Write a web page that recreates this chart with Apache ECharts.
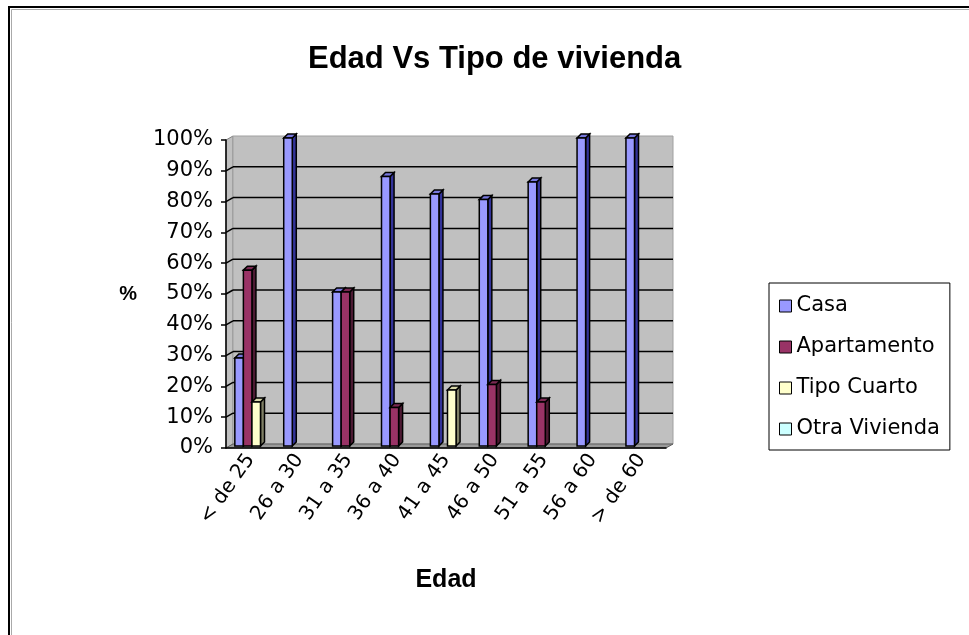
<!DOCTYPE html>
<html>
<head>
<meta charset="utf-8">
<title>Edad Vs Tipo de vivienda</title>
<script src="https://cdn.jsdelivr.net/npm/echarts@6/dist/echarts.min.js"></script>
<style>
  html, body { margin: 0; padding: 0; background: #fff; }
  #chart { width: 969px; height: 635px; }
</style>
</head>
<body>
<div id="chart"></div>
<script>
// categorias de edad
const categories = ['< de 25', '26 a 30', '31 a 35', '36 a 40', '41 a 45', '46 a 50', '51 a 55', '56 a 60', '> de 60'];

// porcentaje por tipo de vivienda
const casa = [28.6, 100, 50, 87.5, 81.8, 80, 85.7, 100, 100];
const apartamento = [57.1, 0, 50, 12.5, 0, 20, 14.3, 0, 0];
const tipoCuarto = [14.3, 0, 0, 0, 18.2, 0, 0, 0, 0];
const otraVivienda = [0, 0, 0, 0, 0, 0, 0, 0, 0];

const seriesNames = ['Casa', 'Apartamento', 'Tipo Cuarto', 'Otra Vivienda'];
const yTicks = [10, 20, 30, 40, 50, 60, 70, 80, 90];

// colores: frente, arriba, lado
const palette = [
  ['#9999ff', '#7777dd', '#333399'],
  ['#993366', '#7a2952', '#4d1a33'],
  ['#ffffcc', '#d6d6a8', '#808066'],
  ['#ccffff', '#a8d6d6', '#668080']
];

// efecto 3D
const WALL_DX = 7, WALL_DY = -4;
const BAR_DX = 3.5, BAR_DY = -2, BAR_DEPTH = 4;

const chart = echarts.init(document.getElementById('chart'));

const renderWalls = (params, api) => {
  const cs = params.coordSys;
  const l = cs.x, t = cs.y, r = cs.x + cs.width, b = cs.y + cs.height;
  const children = [
    { type: 'polygon', shape: { points: [[l, t], [l + WALL_DX, t + WALL_DY], [l + WALL_DX, b + WALL_DY], [l, b]] },
      style: { fill: '#c0c0c0', stroke: '#808080', lineWidth: 1 } },
    { type: 'rect', shape: { x: l + WALL_DX, y: t + WALL_DY, width: cs.width, height: cs.height },
      style: { fill: '#c0c0c0', stroke: '#a0a0a0', lineWidth: 1 } },
    { type: 'polygon', shape: { points: [[l, b], [l + WALL_DX, b + WALL_DY], [r + WALL_DX, b + WALL_DY], [r, b]] },
      style: { fill: '#9a9a9a', stroke: '#606060', lineWidth: 1 } }
  ];
  yTicks.forEach(v => {
    const y = api.coord([0, v])[1];
    children.push({ type: 'line', shape: { x1: l + WALL_DX, y1: y + WALL_DY, x2: r + WALL_DX, y2: y + WALL_DY },
      style: { stroke: '#000', lineWidth: 1.5 } });
    children.push({ type: 'line', shape: { x1: l, y1: y, x2: l + WALL_DX, y2: y + WALL_DY },
      style: { stroke: '#000', lineWidth: 1.5 } });
  });
  return { type: 'group', children };
};

const makeBarRenderer = (idx) => (params, api) => {
  const v = api.value(1);
  if (!v) return null;
  const top = api.coord([api.value(0), v]);
  const base = api.coord([api.value(0), 0]);
  const band = api.size([1, 0])[0];
  const bw = band * 0.175;
  const D = BAR_DEPTH;
  const x0 = top[0] + BAR_DX - (4 * bw + D) / 2 + idx * bw;
  const yT = top[1] + BAR_DY;
  const yB = base[1] + BAR_DY;
  const [front, upper, side] = palette[idx];
  const stroke = { stroke: '#000', lineWidth: 1.5 };
  return {
    type: 'group',
    children: [
      { type: 'polygon', shape: { points: [[x0 + bw, yT], [x0 + bw + D, yT - D], [x0 + bw + D, yB - D], [x0 + bw, yB]] },
        style: Object.assign({ fill: side }, stroke) },
      { type: 'polygon', shape: { points: [[x0, yT], [x0 + D, yT - D], [x0 + bw + D, yT - D], [x0 + bw, yT]] },
        style: Object.assign({ fill: upper }, stroke) },
      { type: 'rect', shape: { x: x0, y: yT, width: bw, height: yB - yT },
        style: Object.assign({ fill: front }, stroke) }
    ]
  };
};

const seriesData = [casa, apartamento, tipoCuarto, otraVivienda];

const option = {
  animation: false,
  backgroundColor: '#fff',
  title: {
    text: 'Edad Vs Tipo de vivienda',
    left: 303,
    top: 39,
    textStyle: { fontFamily: 'Liberation Sans', fontSize: 31, fontWeight: 'bold', color: '#000' }
  },
  legend: {
    orient: 'vertical',
    left: 769,
    top: 283,
    padding: [11, 10, 9, 10],
    itemWidth: 12,
    itemHeight: 12,
    itemGap: 17,
    icon: 'rect',
    borderColor: '#000',
    borderWidth: 1,
    itemStyle: { borderColor: '#000', borderWidth: 1 },
    textStyle: { fontFamily: 'DejaVu Sans', fontSize: 21, lineHeight: 24, color: '#000' },
    data: seriesNames
  },
  grid: { left: 226, top: 140, right: 303, bottom: 187 },
  xAxis: {
    type: 'category',
    data: categories,
    z: 5,
    name: 'Edad',
    nameLocation: 'middle',
    nameGap: 120,
    nameTextStyle: { fontFamily: 'Liberation Sans', fontSize: 25, fontWeight: 'bold', color: '#000' },
    axisLine: { lineStyle: { color: '#000', width: 1.5 } },
    axisTick: { length: 5, lineStyle: { color: '#000', width: 1.5 } },
    axisLabel: { rotate: 55, margin: 8, fontFamily: 'DejaVu Sans', fontSize: 20, color: '#000' },
    splitLine: { show: false }
  },
  yAxis: {
    type: 'value',
    min: 0,
    max: 100,
    interval: 10,
    z: 5,
    name: '%',
    nameLocation: 'middle',
    nameRotate: 0,
    nameGap: 89,
    nameTextStyle: { fontFamily: 'Liberation Sans', fontSize: 20, fontWeight: 'bold', color: '#000' },
    axisLine: { show: true, lineStyle: { color: '#000', width: 1.5 } },
    axisTick: { show: true, length: 5, lineStyle: { color: '#000', width: 1.5 } },
    axisLabel: { formatter: '{value}%', margin: 13, fontFamily: 'DejaVu Sans', fontSize: 21, color: '#000' },
    splitLine: { show: false }
  },
  graphic: [
    { type: 'rect', shape: { x: 9, y: 7, width: 1000, height: 700 }, style: { fill: 'none', stroke: '#000', lineWidth: 2 }, z: 100 },
    { type: 'rect', shape: { x: 11.5, y: 9.5, width: 1000, height: 700 }, style: { fill: 'none', stroke: '#aaa', lineWidth: 1 }, z: 100 }
  ],
  series: [
    {
      name: 'walls',
      type: 'custom',
      z: 1,
      silent: true,
      renderItem: renderWalls,
      data: [[0, 0]]
    }
  ].concat(seriesNames.map((name, idx) => ({
    name,
    type: 'custom',
    z: 2,
    itemStyle: { color: palette[idx][0] },
    renderItem: makeBarRenderer(idx),
    encode: { x: 0, y: 1 },
    data: seriesData[idx].map((v, i) => [i, v])
  })))
};

chart.setOption(option);
</script>
</body>
</html>
